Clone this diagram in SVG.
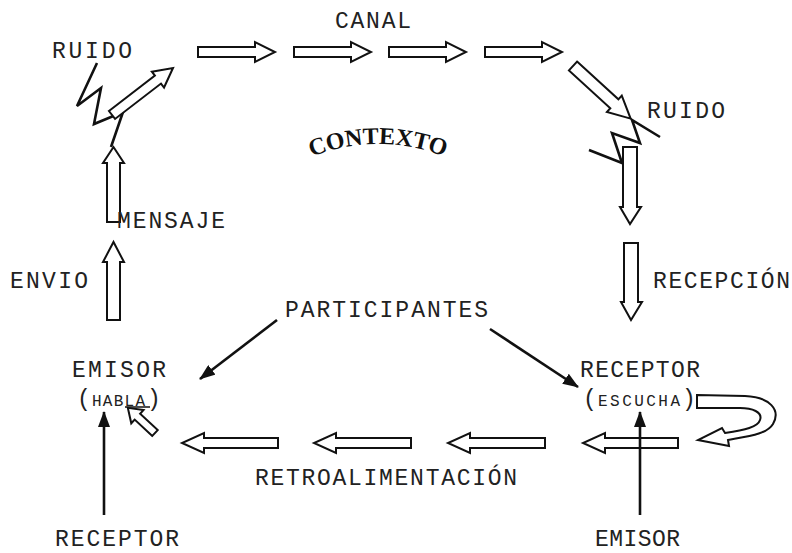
<svg xmlns="http://www.w3.org/2000/svg" width="792" height="553" viewBox="0 0 792 553">
<style>
  .t { font-size: 23px; fill: #222; }
  .hollow { fill: #fff; stroke: #111; stroke-width: 2; stroke-linejoin: miter; }
  .solid { stroke: #111; stroke-width: 2.6; fill: none; }
  .bolt { stroke: #111; stroke-width: 2.6; fill: none; stroke-linejoin: miter; }
  .ctx { font-family: "Liberation Serif", serif; font-weight: bold; font-size: 24px; fill: #111; }
</style>
<defs>
  <marker id="head" markerUnits="userSpaceOnUse" markerWidth="16" markerHeight="12" refX="15" refY="6" orient="auto">
    <path d="M0,0 L16,6 L0,12 Z" fill="#111"/>
  </marker>
  <path id="arcCtx" d="M303,160 Q378,128 453,160" fill="none"/>
</defs>
<rect width="792" height="553" fill="#fff"/>

<g id="connectors">
  <path class="hollow" transform="translate(198,52)" d="M0,-5 H57 V-10 L77,0 L57,10 V5 H0 Z"/>
  <path class="hollow" transform="translate(294,52)" d="M0,-5 H57 V-10 L77,0 L57,10 V5 H0 Z"/>
  <path class="hollow" transform="translate(389,52)" d="M0,-5 H57 V-10 L77,0 L57,10 V5 H0 Z"/>
  <path class="hollow" transform="translate(485,52)" d="M0,-5 H57 V-10 L77,0 L57,10 V5 H0 Z"/>
  <path class="hollow" transform="translate(573,66) rotate(42.4)" d="M0,-6 H56 V-11 L78,0 L56,11 V6 H0 Z"/>
  <polyline class="bolt" points="660,137 632,120 640,143 612,133 622,163 589,150"/>
  <path class="hollow" d="M623,147 V207 H620 L630,224 L641,207 H637 V147 Z"/>
  <path class="hollow" d="M624,243 V302 H621 L631,320 L642,302 H638 V243 Z"/>
  <path class="hollow" d="M107,222 V163 H103 L113.5,147 L124,163 H120 V222 Z"/>
  <path class="hollow" d="M107,320 V262 H103 L113.5,242 L124,262 H120 V320 Z"/>
  <polyline class="bolt" points="97,63 77,106 101,88 94,124 123,112 111,147"/>
  <path class="hollow" transform="translate(112,115) rotate(-37.6)" d="M0,-5 H58 V-10 L77,0 L58,10 V5 H0 Z"/>
  <path class="hollow" d="M278,438 H204 V433 L182,443 L204,453 V448 H278 Z"/>
  <path class="hollow" d="M411,438 H336 V433 L314,443 L336,453 V448 H411 Z"/>
  <path class="hollow" d="M545,438 H470 V433 L448,443 L470,453 V448 H545 Z"/>
  <path class="hollow" d="M678,438 H605 V433 L583,443 L605,453 V448 H678 Z"/>
  <path class="hollow" d="M697,395 L745,396 C770,397 781,410 773,424 C767,434 750,436 728,440 L729,446 L698,440 L722,428 L725,433 C745,430 758,427 760,420 C763,412 752,408 740,408 L697,408 Z"/>
  <path class="hollow" transform="translate(155,433) rotate(-137.2)" d="M0,-4 H24 V-9 L37,0 L24,9 V4 H0 Z"/>
  <line class="solid" x1="277" y1="320" x2="200" y2="379" marker-end="url(#head)"/>
  <line class="solid" x1="490" y1="329" x2="578" y2="387" marker-end="url(#head)"/>
  <line class="solid" x1="104" y1="515" x2="104" y2="412" marker-end="url(#head)"/>
  <line class="solid" x1="640" y1="515" x2="640" y2="412" marker-end="url(#head)"/>
</g>

<g font-family="Liberation Mono, Courier New, monospace">
<g id="ruido-left"><text class="t" x="52" y="58" textLength="80" lengthAdjust="spacing">RUIDO</text></g>
<g id="canal"><text class="t" x="335" y="28" textLength="76" lengthAdjust="spacing">CANAL</text></g>
<g id="ruido-right"><text class="t" x="647" y="118" textLength="78" lengthAdjust="spacing">RUIDO</text></g>
<g id="contexto"><text class="ctx"><textPath href="#arcCtx" startOffset="50%" text-anchor="middle" textLength="136" lengthAdjust="spacing">CONTEXTO</textPath></text></g>
<g id="mensaje"><text class="t" x="117" y="228" textLength="108" lengthAdjust="spacing">MENSAJE</text></g>
<g id="envio"><text class="t" x="10" y="288" textLength="78" lengthAdjust="spacing">ENVIO</text></g>
<g id="recepcion"><text class="t" x="653" y="288" textLength="137" lengthAdjust="spacing">RECEPCIÓN</text></g>
<g id="participantes"><text class="t" x="285" y="317" textLength="203" lengthAdjust="spacing">PARTICIPANTES</text></g>
<g id="emisor-habla">
  <text class="t" x="72" y="377" textLength="94" lengthAdjust="spacing">EMISOR</text>
  <text class="t" x="77" y="406">(<tspan x="92" font-size="16" textLength="53" lengthAdjust="spacing">HABLA</tspan><tspan x="147">)</tspan></text>
  <line x1="125" y1="407" x2="150" y2="407" stroke="#111" stroke-width="1.5"/>
</g>
<g id="receptor-escucha">
  <text class="t" x="580" y="377" textLength="120" lengthAdjust="spacing">RECEPTOR</text>
  <text class="t" x="583" y="406">(<tspan x="598" font-size="16" textLength="82" lengthAdjust="spacing">ESCUCHA</tspan><tspan x="682">)</tspan></text>
</g>
<g id="retroalimentacion"><text class="t" x="255" y="485" textLength="262" lengthAdjust="spacing">RETROALIMENTACIÓN</text></g>
<g id="receptor-bottom"><text class="t" x="55" y="546" textLength="124" lengthAdjust="spacing">RECEPTOR</text></g>
<g id="emisor-bottom"><text class="t" x="595" y="546" textLength="85" lengthAdjust="spacing">EMISOR</text></g>
</g>
</svg>
